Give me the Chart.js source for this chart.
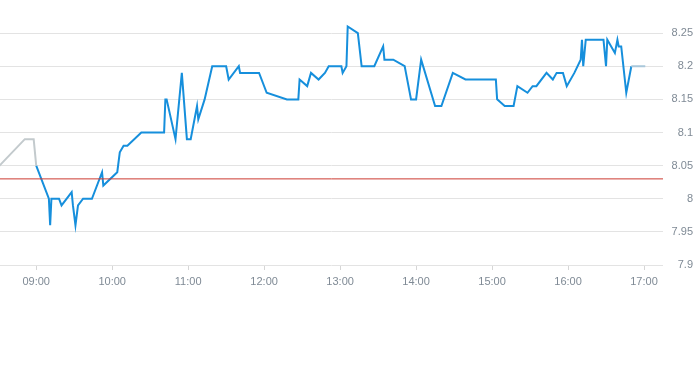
<!DOCTYPE html>
<html>
<head>
<meta charset="utf-8">
<script src="https://cdn.jsdelivr.net/npm/chart.js@4.4.1/dist/chart.umd.min.js"></script>
<style>
  html, body { margin: 0; padding: 0; background: #fff; }
  canvas { display: block; }
</style>
</head>
<body>
<canvas id="priceChart" width="693" height="365"></canvas>
<script>
// intraday prices
const preTimes  = ['08:30', '08:51', '08:58', '09:00'];
const prePrices = [8.048, 8.09, 8.09, 8.05];

const mainTimes = [
  '09:00','09:10','09:11','09:12','09:18','09:20','09:28','09:29','09:31','09:33',
  '09:37','09:44','09:52','09:53','10:04','10:06','10:09','10:12','10:23','10:41',
  '10:42','10:43','10:50','10:55','10:59','11:02','11:07','11:08','11:13','11:19',
  '11:30','11:32','11:40','11:41','11:56','12:02','12:18','12:27','12:28','12:34',
  '12:37','12:43','12:48','12:51','13:01','13:02','13:05','13:06','13:14','13:17',
  '13:27','13:34','13:35','13:42','13:51','13:52','13:56','14:00','14:04','14:15',
  '14:20','14:29','14:39','15:03','15:04','15:10','15:17','15:20','15:28','15:32',
  '15:35','15:43','15:48','15:51','15:56','15:59','16:05','16:10','16:11','16:12',
  '16:14','16:28','16:30','16:31','16:37','16:39','16:40','16:42','16:46','16:50'
];
const mainPrices = [
  8.05, 8.00, 7.96, 8.00, 8.00, 7.99, 8.01, 7.99, 7.96, 7.99,
  8.00, 8.00, 8.04, 8.02, 8.04, 8.07, 8.08, 8.08, 8.10, 8.10,
  8.15, 8.15, 8.09, 8.19, 8.09, 8.09, 8.14, 8.12, 8.15, 8.20,
  8.20, 8.18, 8.20, 8.19, 8.19, 8.16, 8.15, 8.15, 8.18, 8.17,
  8.19, 8.18, 8.19, 8.20, 8.20, 8.19, 8.20, 8.26, 8.25, 8.20,
  8.20, 8.23, 8.21, 8.21, 8.20, 8.19, 8.15, 8.15, 8.21, 8.14,
  8.14, 8.19, 8.18, 8.18, 8.15, 8.14, 8.14, 8.17, 8.16, 8.17,
  8.17, 8.19, 8.18, 8.19, 8.19, 8.17, 8.19, 8.21, 8.24, 8.20,
  8.24, 8.24, 8.20, 8.24, 8.22, 8.24, 8.23, 8.23, 8.16, 8.20
];

const postTimes  = ['16:50', '17:01'];
const postPrices = [8.20, 8.20];

const prevClose = 8.03;

const xLabels = ['09:00','10:00','11:00','12:00','13:00','14:00','15:00','16:00','17:00'];
const yTicks  = [7.9, 7.95, 8.0, 8.05, 8.1, 8.15, 8.2, 8.25];

const xMin = 511.4, xMax = 1035;   // minutes since midnight
const yMin = 7.9, yMax = 8.3;

function toMin(s) { const p = s.split(':'); return (+p[0]) * 60 + (+p[1]); }
function toHHMM(v) {
    const h = Math.floor(v / 60), m = Math.round(v % 60);
    return String(h).padStart(2, '0') + ':' + String(m).padStart(2, '0');
}
function pts(times, vals) { return times.map((t, i) => ({ x: toMin(t), y: vals[i] })); }

const tickColor = '#7f8a95';
const gridColor = '#e3e3e3';
const tickFont = { family: "'Liberation Sans', Arial, sans-serif", size: 11 };

new Chart(document.getElementById('priceChart').getContext('2d'), {
    type: 'line',
    data: {
        datasets: [
            { data: [{ x: xMin, y: prevClose }, { x: xMax, y: prevClose }], borderColor: '#cc3a30', borderWidth: 1, pointRadius: 0 },
            { data: pts(preTimes, prePrices), borderColor: '#c3cacd', borderWidth: 2, pointRadius: 0 },
            { data: pts(postTimes, postPrices), borderColor: '#a9c7da', borderWidth: 2, pointRadius: 0 },
            { data: pts(mainTimes, mainPrices), borderColor: '#168fdc', borderWidth: 2, pointRadius: 0 }
        ]
    },
    options: {
        responsive: false, animation: false,
        layout: { padding: { left: 0, right: 0, top: 0, bottom: 75 } },
        plugins: { legend: { display: false }, tooltip: { enabled: false } },
        elements: { line: { tension: 0, borderJoinStyle: 'miter' } },
        scales: {
            x: {
                type: 'linear', min: xMin, max: xMax,
                afterBuildTicks: s => { s.ticks = xLabels.map(l => ({ value: toMin(l) })); },
                afterFit: s => { s.height = 25; s.paddingLeft = 0; s.paddingRight = 0; },
                grid: { drawOnChartArea: false, drawTicks: true, tickLength: 5, color: '#d6d6d6' },
                border: { display: false },
                ticks: { color: tickColor, font: tickFont, padding: 5, maxRotation: 0, autoSkip: false, callback: v => toHHMM(v) }
            },
            y: {
                position: 'right', min: yMin, max: yMax,
                afterBuildTicks: s => { s.ticks = yTicks.map(v => ({ value: v })); },
                afterFit: s => { s.width = 30; s.paddingTop = 0; s.paddingBottom = 0; },
                grid: { color: gridColor, drawTicks: false },
                border: { display: false },
                ticks: { color: tickColor, font: tickFont, padding: 9, crossAlign: 'far', callback: v => String(+(+v).toFixed(2)) }
            }
        }
    }
});
</script>
</body>
</html>
